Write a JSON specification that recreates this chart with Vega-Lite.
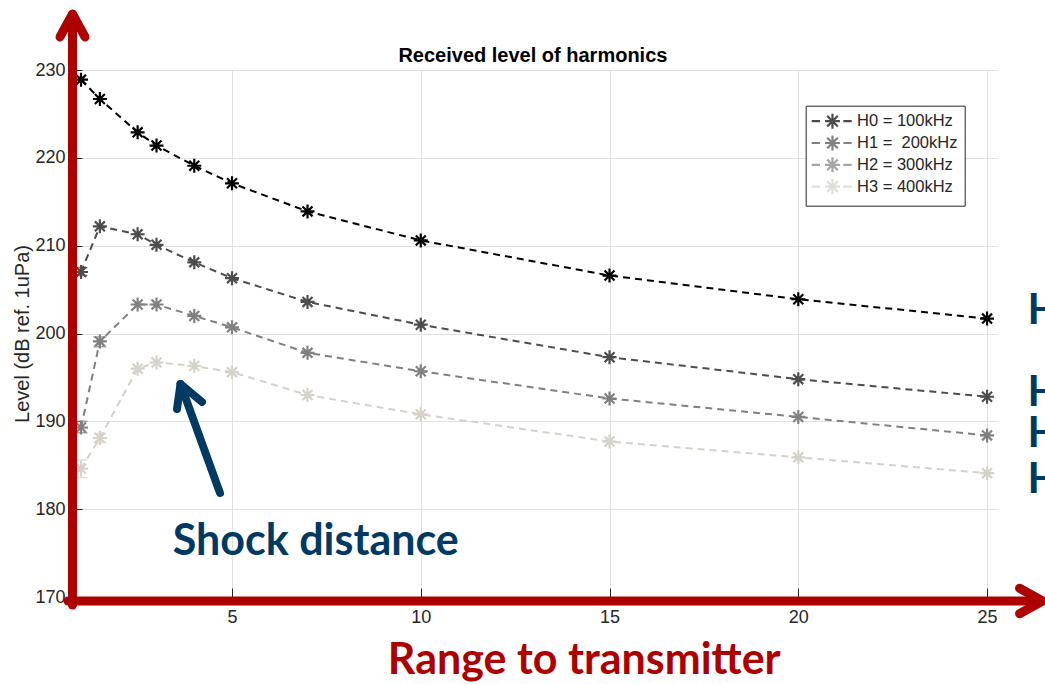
{
  "$schema": "https://vega.github.io/schema/vega-lite/v6.json",
  "width": 925,
  "height": 527,
  "autosize": {"type": "none"},
  "padding": {"left": 73, "top": 70, "right": 47, "bottom": 87},
  "background": "white",
  "config": {
    "view": {"stroke": null},
    "axis": {
      "labelFont": "Liberation Sans",
      "labelFontSize": 18,
      "labelColor": "#262626",
      "tickColor": "#262626",
      "tickWidth": 1,
      "gridColor": "#e0e0e0",
      "gridWidth": 1,
      "domain": false
    }
  },
  "datasets": {
    "series": [
      {"s": "H0 = 100kHz", "x": 1, "y": 228.9},
      {"s": "H0 = 100kHz", "x": 1.5, "y": 226.7},
      {"s": "H0 = 100kHz", "x": 2.5, "y": 222.9},
      {"s": "H0 = 100kHz", "x": 3, "y": 221.4},
      {"s": "H0 = 100kHz", "x": 4, "y": 219.1},
      {"s": "H0 = 100kHz", "x": 5, "y": 217.1},
      {"s": "H0 = 100kHz", "x": 7, "y": 213.9},
      {"s": "H0 = 100kHz", "x": 10, "y": 210.6},
      {"s": "H0 = 100kHz", "x": 15, "y": 206.6},
      {"s": "H0 = 100kHz", "x": 20, "y": 203.9},
      {"s": "H0 = 100kHz", "x": 25, "y": 201.7},
      {"s": "H1 = \u00a0200kHz", "x": 1, "y": 207.0},
      {"s": "H1 = \u00a0200kHz", "x": 1.5, "y": 212.2},
      {"s": "H1 = \u00a0200kHz", "x": 2.5, "y": 211.3},
      {"s": "H1 = \u00a0200kHz", "x": 3, "y": 210.1},
      {"s": "H1 = \u00a0200kHz", "x": 4, "y": 208.1},
      {"s": "H1 = \u00a0200kHz", "x": 5, "y": 206.3},
      {"s": "H1 = \u00a0200kHz", "x": 7, "y": 203.6},
      {"s": "H1 = \u00a0200kHz", "x": 10, "y": 201.0},
      {"s": "H1 = \u00a0200kHz", "x": 15, "y": 197.3},
      {"s": "H1 = \u00a0200kHz", "x": 20, "y": 194.8},
      {"s": "H1 = \u00a0200kHz", "x": 25, "y": 192.8},
      {"s": "H2 = 300kHz", "x": 1, "y": 189.3},
      {"s": "H2 = 300kHz", "x": 1.5, "y": 199.1},
      {"s": "H2 = 300kHz", "x": 2.5, "y": 203.3},
      {"s": "H2 = 300kHz", "x": 3, "y": 203.3},
      {"s": "H2 = 300kHz", "x": 4, "y": 202.0},
      {"s": "H2 = 300kHz", "x": 5, "y": 200.7},
      {"s": "H2 = 300kHz", "x": 7, "y": 197.8},
      {"s": "H2 = 300kHz", "x": 10, "y": 195.7},
      {"s": "H2 = 300kHz", "x": 15, "y": 192.6},
      {"s": "H2 = 300kHz", "x": 20, "y": 190.5},
      {"s": "H2 = 300kHz", "x": 25, "y": 188.4},
      {"s": "H3 = 400kHz", "x": 1, "y": 184.6},
      {"s": "H3 = 400kHz", "x": 1.5, "y": 188.1},
      {"s": "H3 = 400kHz", "x": 2.5, "y": 196.0},
      {"s": "H3 = 400kHz", "x": 3, "y": 196.7},
      {"s": "H3 = 400kHz", "x": 4, "y": 196.3},
      {"s": "H3 = 400kHz", "x": 5, "y": 195.6},
      {"s": "H3 = 400kHz", "x": 7, "y": 193.0},
      {"s": "H3 = 400kHz", "x": 10, "y": 190.8},
      {"s": "H3 = 400kHz", "x": 15, "y": 187.7},
      {"s": "H3 = 400kHz", "x": 20, "y": 185.9},
      {"s": "H3 = 400kHz", "x": 25, "y": 184.1}
    ],
    "err": [
      {"s": "H1 = \u00a0200kHz", "x": 1, "y": 206.6, "hi": 207.5},
      {"s": "H2 = 300kHz", "x": 1, "y": 188.7, "hi": 190.0},
      {"s": "H3 = 400kHz", "x": 1, "y": 183.6, "hi": 185.6},
      {"s": "H2 = 300kHz", "x": 1.5, "y": 198.5, "hi": 199.6},
      {"s": "H3 = 400kHz", "x": 1.5, "y": 187.6, "hi": 188.6}
    ],
    "redaxes": [
      {"part": "v", "k": 1, "x": 0.775, "y": 169.09},
      {"part": "v", "k": 2, "x": 0.775, "y": 236.2},
      {"part": "h", "k": 1, "x": 0.656, "y": 169.54},
      {"part": "h", "k": 2, "x": 26.4, "y": 169.54},
      {"part": "up", "k": 1, "x": 0.444, "y": 233.76},
      {"part": "up", "k": 2, "x": 0.775, "y": 236.38},
      {"part": "up", "k": 3, "x": 1.106, "y": 233.76},
      {"part": "right", "k": 1, "x": 25.861, "y": 170.99},
      {"part": "right", "k": 2, "x": 26.47, "y": 169.54},
      {"part": "right", "k": 3, "x": 25.861, "y": 168.1}
    ],
    "navy": [
      {"part": "shaft", "k": 1, "x": 4.682, "y": 181.84},
      {"part": "shaft", "k": 2, "x": 3.636, "y": 194.25},
      {"part": "head", "k": 1, "x": 3.543, "y": 191.4},
      {"part": "head", "k": 2, "x": 3.636, "y": 194.25},
      {"part": "head", "k": 3, "x": 4.205, "y": 192.2}
    ],
    "title": [{"t": "Received level of harmonics", "x": 12.97, "y": 230.91}],
    "shock": [{"t": "Shock distance", "x": 7.22, "y": 174.78}],
    "range": [{"t": "Range to transmitter", "x": 14.33, "y": 161.2}],
    "hlabels": [
      {"t": "H0", "x": 26.07, "y": 201.08},
      {"t": "H1", "x": 26.07, "y": 191.74},
      {"t": "H2", "x": 26.07, "y": 187.07},
      {"t": "H3", "x": 26.07, "y": 181.84}
    ]
  },
  "layer": [
    {
      "data": {"name": "series"},
      "mark": {"type": "line", "strokeDash": [7, 5], "strokeWidth": 2},
      "encoding": {
        "x": {
          "field": "x",
          "type": "quantitative",
          "scale": {"domain": [0.788, 25.29], "nice": false, "zero": false},
          "axis": {
            "values": [5, 10, 15, 20, 25],
            "title": null,
            "grid": true,
            "ticks": true,
            "tickSize": -9,
            "labelPadding": 20
          }
        },
        "y": {
          "field": "y",
          "type": "quantitative",
          "scale": {"domain": [170, 230], "nice": false, "zero": false},
          "axis": {
            "values": [170, 180, 190, 200, 210, 220, 230],
            "grid": true,
            "ticks": true,
            "tickSize": -9,
            "labelPadding": 17,
            "title": "Level (dB ref. 1uPa)",
            "titleFont": "Liberation Sans",
            "titleFontSize": 20,
            "titleFontWeight": "normal",
            "titleColor": "#262626",
            "titleAngle": -90,
            "titleX": -45,
            "titleY": 263.5,
            "titleAlign": "center",
            "titleBaseline": "alphabetic"
          }
        },
        "color": {
          "field": "s",
          "type": "nominal",
          "scale": {
            "domain": ["H0 = 100kHz", "H1 = \u00a0200kHz", "H2 = 300kHz", "H3 = 400kHz"],
            "range": ["#000000", "#4d4d4d", "#808080", "#d5d2ca"]
          },
          "legend": {
            "orient": "none",
            "legendX": 732.7,
            "legendY": 35.7,
            "title": null,
            "symbolType": "M-1.36,0L-0.17,0M0.54,0L2.68,0M1.61,-1.07L1.61,1.07M0.85,-0.76L2.37,0.76M0.85,0.76L2.37,-0.76M3.16,0L4.36,0",
            "symbolSize": 196,
            "symbolStrokeWidth": 2.2,
            "symbolDash": [1, 0],
            "symbolFillColor": "transparent",
            "symbolOpacity": 1,
            "labelFont": "Liberation Sans",
            "labelFontSize": 16.5,
            "labelColor": "#262626",
            "labelOffset": 27.3,
            "padding": 7,
            "rowPadding": -3.2,
            "fillColor": "white",
            "strokeColor": "#262626"
          }
        }
      }
    },
    {
      "data": {"name": "err"},
      "mark": {"type": "rule", "strokeWidth": 1.5},
      "encoding": {
        "x": {"field": "x", "type": "quantitative"},
        "y": {"field": "y", "type": "quantitative"},
        "y2": {"field": "hi"},
        "color": {"field": "s", "type": "nominal"}
      }
    },
    {
      "data": {"name": "err"},
      "mark": {"type": "tick", "orient": "horizontal", "size": 13, "thickness": 1.5},
      "encoding": {
        "x": {"field": "x", "type": "quantitative"},
        "y": {"field": "y", "type": "quantitative"},
        "color": {"field": "s", "type": "nominal"}
      }
    },
    {
      "data": {"name": "err"},
      "mark": {"type": "tick", "orient": "horizontal", "size": 13, "thickness": 1.5},
      "encoding": {
        "x": {"field": "x", "type": "quantitative"},
        "y": {"field": "hi", "type": "quantitative"},
        "color": {"field": "s", "type": "nominal"}
      }
    },
    {
      "data": {"name": "series"},
      "mark": {
        "type": "point",
        "shape": "M-1,0L1,0M0,-1L0,1M-0.71,-0.71L0.71,0.71M-0.71,0.71L0.71,-0.71",
        "filled": false,
        "size": 196,
        "strokeWidth": 2.2,
        "opacity": 1
      },
      "encoding": {
        "x": {"field": "x", "type": "quantitative"},
        "y": {"field": "y", "type": "quantitative"},
        "color": {"field": "s", "type": "nominal"}
      }
    },
    {
      "data": {"name": "redaxes"},
      "mark": {"type": "line", "color": "#ad0000", "strokeWidth": 9, "strokeCap": "round", "strokeJoin": "round", "clip": false},
      "encoding": {
        "x": {"field": "x", "type": "quantitative"},
        "y": {"field": "y", "type": "quantitative"},
        "detail": {"field": "part", "type": "nominal"},
        "order": {"field": "k", "type": "quantitative"}
      }
    },
    {
      "data": {"name": "navy"},
      "mark": {"type": "line", "color": "#003a63", "strokeWidth": 8, "strokeCap": "round", "strokeJoin": "round", "clip": false},
      "encoding": {
        "x": {"field": "x", "type": "quantitative"},
        "y": {"field": "y", "type": "quantitative"},
        "detail": {"field": "part", "type": "nominal"},
        "order": {"field": "k", "type": "quantitative"}
      }
    },
    {
      "data": {"name": "title"},
      "mark": {"type": "text", "font": "Liberation Sans", "fontWeight": "bold", "fontSize": 20, "color": "#000000", "align": "center", "baseline": "alphabetic", "clip": false},
      "encoding": {
        "x": {"field": "x", "type": "quantitative"},
        "y": {"field": "y", "type": "quantitative"},
        "text": {"field": "t"}
      }
    },
    {
      "data": {"name": "shock"},
      "mark": {"type": "text", "font": "Lato", "fontWeight": "bold", "fontSize": 43, "color": "#003a63", "align": "center", "baseline": "alphabetic", "clip": false},
      "encoding": {
        "x": {"field": "x", "type": "quantitative"},
        "y": {"field": "y", "type": "quantitative"},
        "text": {"field": "t"}
      }
    },
    {
      "data": {"name": "range"},
      "mark": {"type": "text", "font": "Lato", "fontWeight": "bold", "fontSize": 43, "color": "#ad0000", "align": "center", "baseline": "alphabetic", "clip": false},
      "encoding": {
        "x": {"field": "x", "type": "quantitative"},
        "y": {"field": "y", "type": "quantitative"},
        "text": {"field": "t"}
      }
    },
    {
      "data": {"name": "hlabels"},
      "mark": {"type": "text", "font": "Lato", "fontWeight": "bold", "fontSize": 42, "color": "#003a63", "align": "left", "baseline": "alphabetic", "clip": false},
      "encoding": {
        "x": {"field": "x", "type": "quantitative"},
        "y": {"field": "y", "type": "quantitative"},
        "text": {"field": "t"}
      }
    }
  ]
}
